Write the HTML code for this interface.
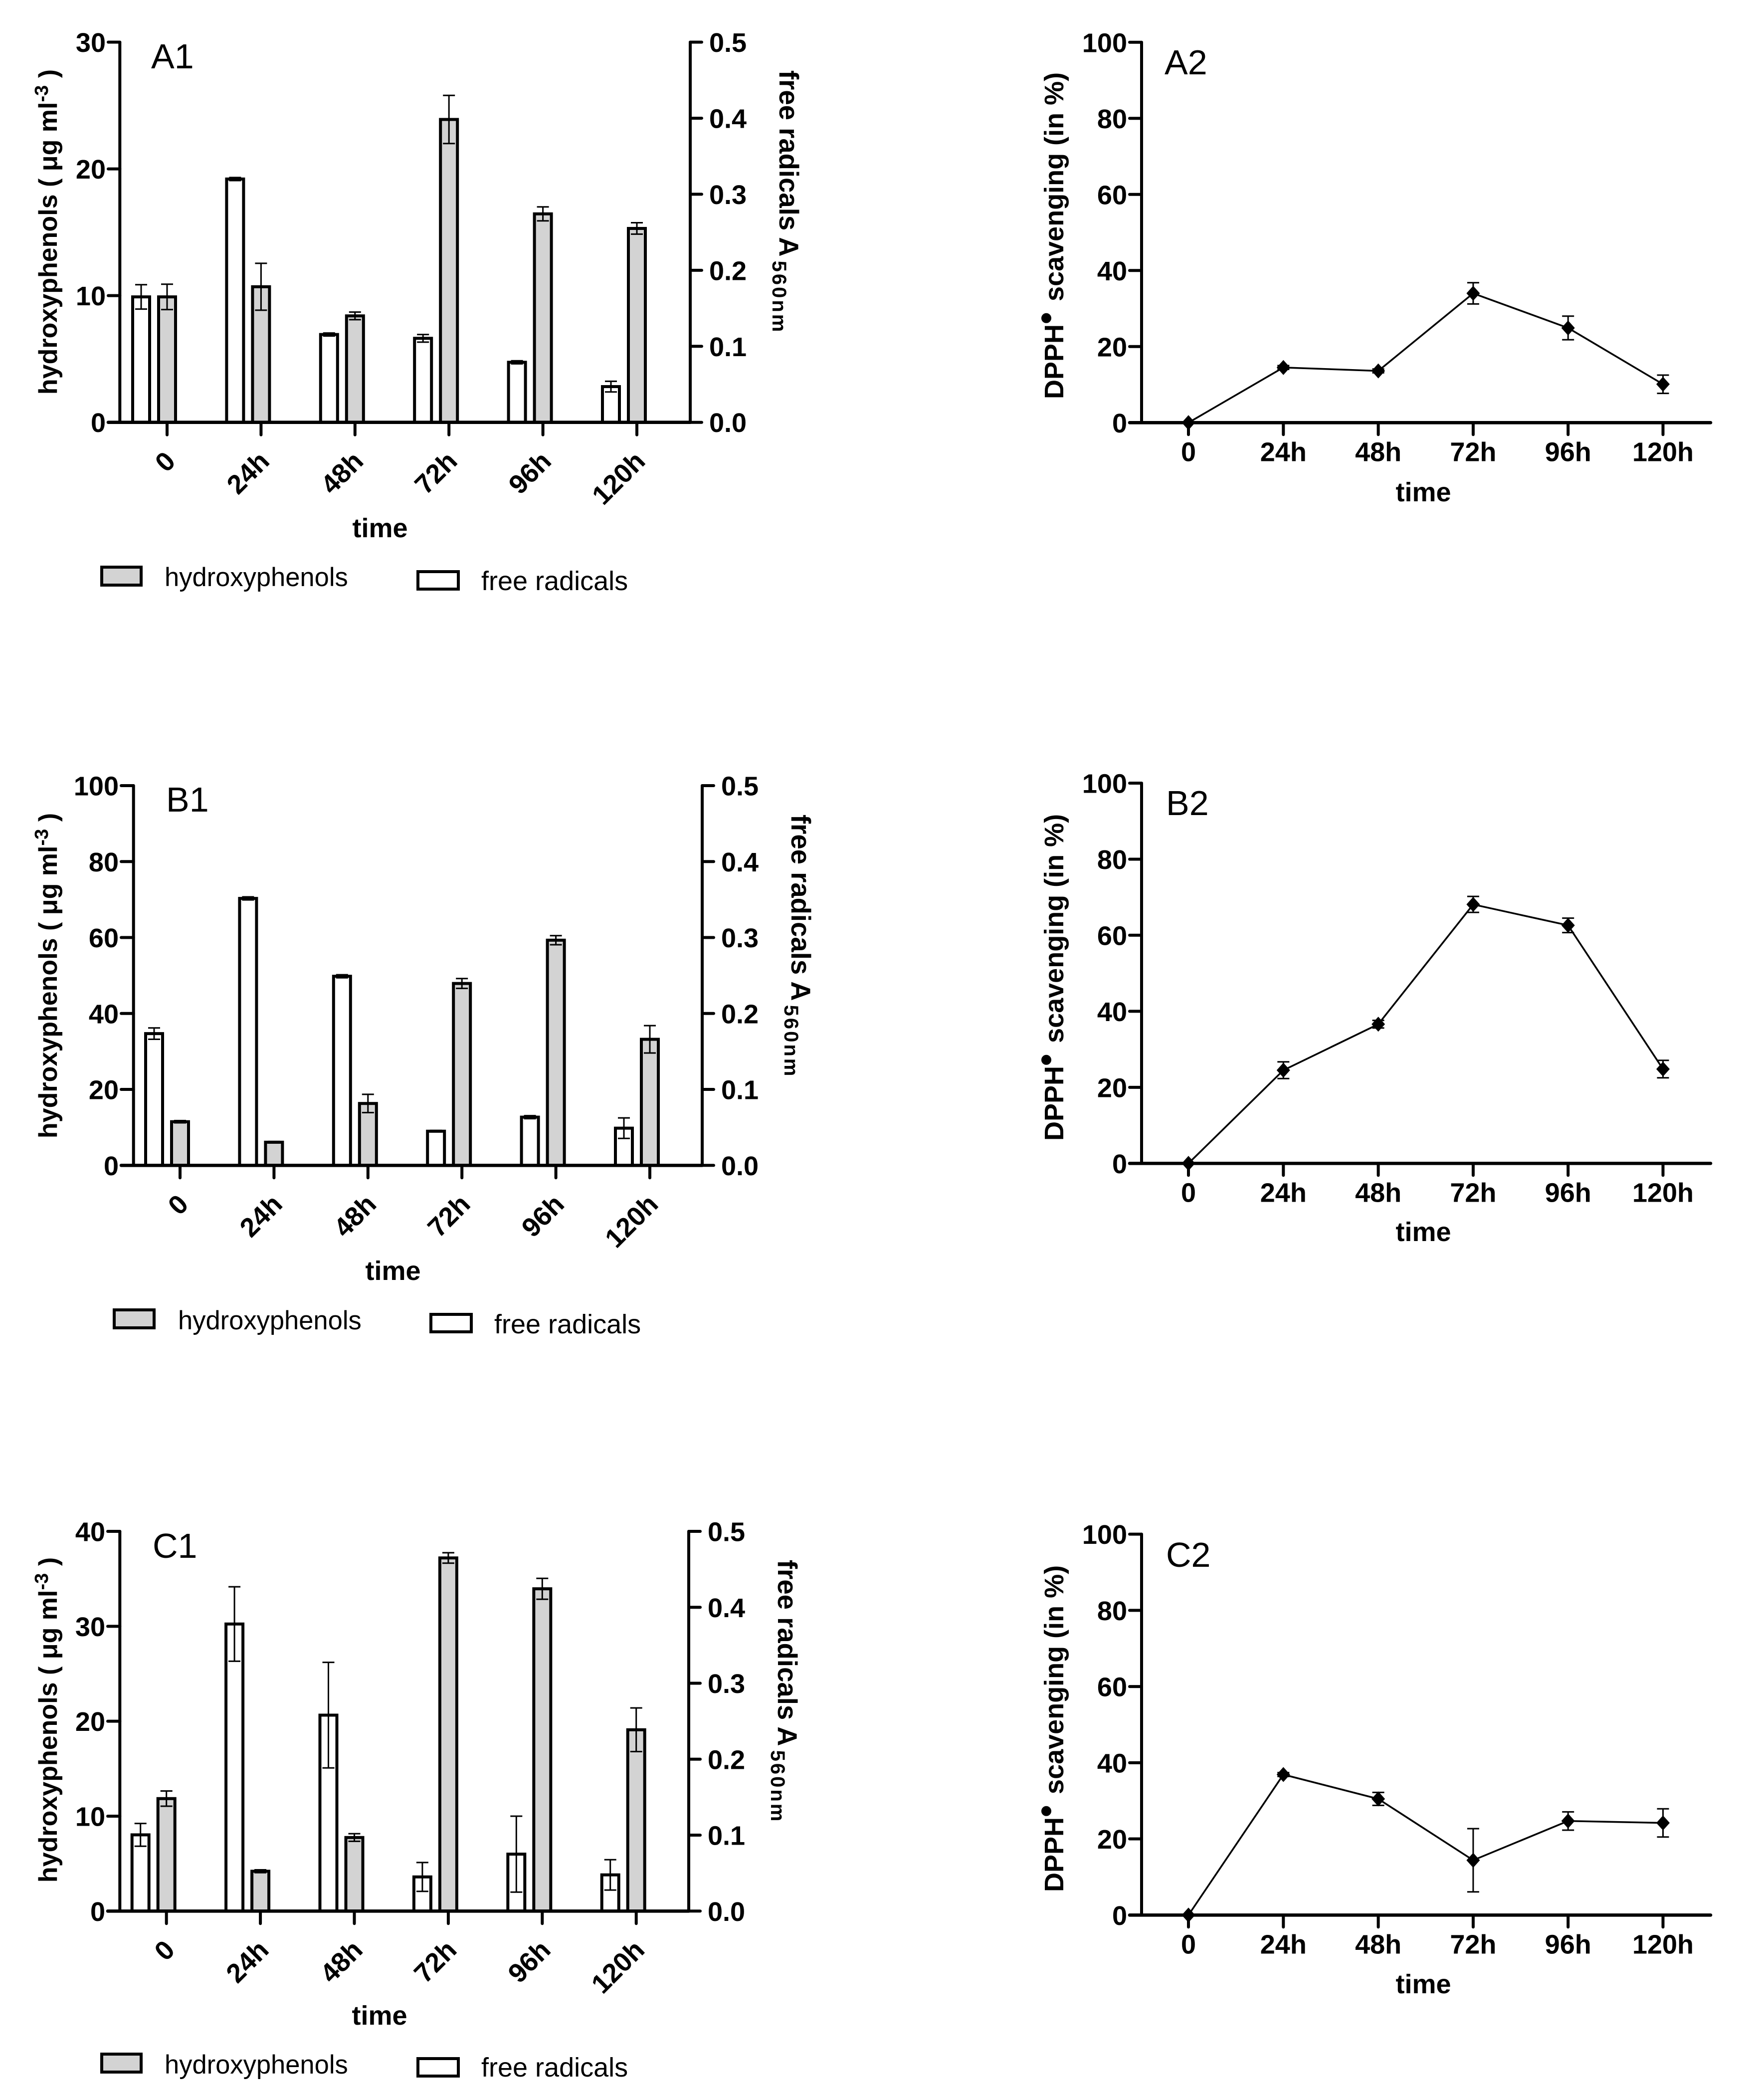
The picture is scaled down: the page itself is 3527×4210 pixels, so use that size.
<!DOCTYPE html>
<html lang="en">
<head>
<meta charset="utf-8">
<title>Hydroxyphenols, free radicals and DPPH scavenging over time</title>
<style>
html,body{margin:0;padding:0;background:#fff;}
svg{display:block;}
text{font-family:"Liberation Sans",Arial,sans-serif;fill:#000;}
.b{font-weight:700;}
.tk{font-weight:700;font-size:54px;}
.ti{font-weight:700;font-size:52px;}
.pl{font-size:70px;}
.lg{font-size:54px;}
.lh{font-size:52.5px;}
</style>
</head>
<body>
<svg id="fig" xmlns="http://www.w3.org/2000/svg" width="3527" height="4210" viewBox="0 0 3527 4210">
<rect width="3527" height="4210" fill="#fff"/>

<g id="a1">
<text class="pl" x="303" y="137">A1</text>
<text class="ti" transform="translate(114,465) rotate(-90)" text-anchor="middle">hydroxyphenols ( μg ml<tspan font-size="38" dy="-18">-3</tspan><tspan dy="18"> )</tspan></text>
<text class="ti" style="font-size:54.5px" transform="translate(1563,141) rotate(90)">free radicals A<tspan style="font-size:40px" dy="14" letter-spacing="4" dx="8">560nm</tspan></text>
<text class="tk" x="762" y="1077" text-anchor="middle">time</text>
<rect x="204" y="1137" width="79" height="36" fill="#d3d3d3" stroke="#000" stroke-width="6"/>
<text class="lh" x="330" y="1175">hydroxyphenols</text>
<rect x="838" y="1146" width="81" height="35" fill="#fff" stroke="#000" stroke-width="6"/>
<text class="lg" x="965" y="1183">free radicals</text>
</g>

<g id="b1">
<text class="pl" x="333" y="1627">B1</text>
<text class="ti" transform="translate(114,1956) rotate(-90)" text-anchor="middle">hydroxyphenols ( μg ml<tspan font-size="38" dy="-18">-3</tspan><tspan dy="18"> )</tspan></text>
<text class="ti" style="font-size:54.5px" transform="translate(1587,1633) rotate(90)">free radicals A<tspan style="font-size:40px" dy="14" letter-spacing="4" dx="8">560nm</tspan></text>
<text class="tk" x="788" y="2566" text-anchor="middle">time</text>
<rect x="229" y="2626" width="80" height="36" fill="#d3d3d3" stroke="#000" stroke-width="6"/>
<text class="lh" x="357" y="2665">hydroxyphenols</text>
<rect x="864" y="2635" width="81" height="35" fill="#fff" stroke="#000" stroke-width="6"/>
<text class="lg" x="991" y="2673">free radicals</text>
</g>

<g id="c1">
<text class="pl" x="306" y="3123">C1</text>
<text class="ti" transform="translate(114,3448) rotate(-90)" text-anchor="middle">hydroxyphenols ( μg ml<tspan font-size="38" dy="-18">-3</tspan><tspan dy="18"> )</tspan></text>
<text class="ti" style="font-size:54.5px" transform="translate(1560,3127) rotate(90)">free radicals A<tspan style="font-size:40px" dy="14" letter-spacing="4" dx="8">560nm</tspan></text>
<text class="tk" x="761" y="4059" text-anchor="middle">time</text>
<rect x="204" y="4118" width="79" height="36" fill="#d3d3d3" stroke="#000" stroke-width="6"/>
<text class="lh" x="330" y="4157">hydroxyphenols</text>
<rect x="838" y="4127" width="81" height="35" fill="#fff" stroke="#000" stroke-width="6"/>
<text class="lg" x="965" y="4163">free radicals</text>
</g>

<g id="a2">
<text class="pl" x="2335" y="149">A2</text>
<text class="ti" style="font-size:54px" transform="translate(2132,800) rotate(-90)">DPPH<tspan style="font-size:70px" dy="-11">•</tspan><tspan dy="11" dx="6.5"> scavenging (in %)</tspan></text>
<text class="tk" x="2854" y="1005" text-anchor="middle">time</text>
</g>

<g id="b2">
<text class="pl" x="2338" y="1634">B2</text>
<text class="ti" style="font-size:54px" transform="translate(2132,2287) rotate(-90)">DPPH<tspan style="font-size:70px" dy="-11">•</tspan><tspan dy="11" dx="6.5"> scavenging (in %)</tspan></text>
<text class="tk" x="2854" y="2488" text-anchor="middle">time</text>
</g>

<g id="c2">
<text class="pl" x="2338" y="3141">C2</text>
<text class="ti" style="font-size:54px" transform="translate(2132,3793) rotate(-90)">DPPH<tspan style="font-size:70px" dy="-11">•</tspan><tspan dy="11" dx="6.5"> scavenging (in %)</tspan></text>
<text class="tk" x="2854" y="3996" text-anchor="middle">time</text>
</g>
</svg>

<script>
// ---- shared categories ----
const categories = ["0", "24h", "48h", "72h", "96h", "120h"];
const rightTicks = [0, 0.1, 0.2, 0.3, 0.4, 0.5];
const dpphTicks = [0, 20, 40, 60, 80, 100];

// ---- A1 ----
const a1LeftTicks = [0, 10, 20, 30];
const a1Hydroxyphenols = [9.9, 10.7, 8.4, 23.9, 16.45, 15.3];
const a1HydroxyphenolsErr = [1.0, 1.85, 0.3, 1.9, 0.55, 0.45];
const a1FreeRadicals = [0.165, 0.32, 0.1155, 0.1105, 0.079, 0.047];
const a1FreeRadicalsErr = [0.016, 0.002, 0.002, 0.005, 0.002, 0.007];

// ---- B1 ----
const b1LeftTicks = [0, 20, 40, 60, 80, 100];
const b1Hydroxyphenols = [11.5, 6.1, 16.3, 47.9, 59.3, 33.2];
const b1HydroxyphenolsErr = [0.3, 0.2, 2.4, 1.3, 1.2, 3.6];
const b1FreeRadicals = [0.1735, 0.3515, 0.249, 0.045, 0.0635, 0.049];
const b1FreeRadicalsErr = [0.0075, 0.002, 0.002, 0.001, 0.002, 0.0135];

// ---- C1 ----
const c1LeftTicks = [0, 10, 20, 30, 40];
const c1Hydroxyphenols = [11.85, 4.2, 7.75, 37.2, 33.95, 19.1];
const c1HydroxyphenolsErr = [0.8, 0.15, 0.4, 0.55, 1.1, 2.3];
const c1FreeRadicals = [0.1004, 0.378, 0.258, 0.045, 0.075, 0.0477];
const c1FreeRadicalsErr = [0.015, 0.049, 0.0695, 0.019, 0.05, 0.02];

// ---- A2 / B2 / C2 ----
const a2Scavenging = [0, 14.5, 13.6, 34, 24.9, 10.1];
const a2ScavengingErr = [0, 0.5, 0.5, 2.8, 3.1, 2.4];
const b2Scavenging = [0, 24.5, 36.6, 68.1, 62.6, 24.8];
const b2ScavengingErr = [0, 2.2, 1, 2.1, 1.9, 2.3];
const c2Scavenging = [0, 36.9, 30.5, 14.4, 24.7, 24.2];
const c2ScavengingErr = [0, 0.5, 1.7, 8.3, 2.4, 3.7];

const NS = "http://www.w3.org/2000/svg";
function mk(parent, tag, attrs, txt) {
  const el = document.createElementNS(NS, tag);
  for (const k in attrs) el.setAttribute(k, attrs[k]);
  if (txt !== undefined) el.textContent = txt;
  parent.appendChild(el);
  return el;
}
const AXIS = {stroke: "#000", "stroke-width": 6, "stroke-linecap": "round", fill: "none"};
const XAXIS = {stroke: "#000", "stroke-width": 6.6, "stroke-linecap": "round", fill: "none"};

function errorBar(g, x, yHi, yLo, name) {
  const err = mk(g, "path", {
    d: "M" + (x - 12) + " " + yHi + "H" + (x + 12) + "M" + x + " " + yHi + "V" + yLo + "M" + (x - 12) + " " + yLo + "H" + (x + 12),
    stroke: "#000", "stroke-width": 3, fill: "none"
  });
  
  
}

function yTickLeft(g, tickStart, axisX, y, label, id) {
  const t = mk(g, "line", Object.assign({x1: tickStart, x2: axisX, y1: y, y2: y}, AXIS));
  
  
  const lab = mk(g, "text", {class: "tk", x: tickStart - 5, y: y + 19.5, "text-anchor": "end"}, label);
  
  
}

function barPanel(id, L, leftTicks, hydro, hydroErr, free, freeErr) {
  const g = document.getElementById(id);
  const leftMax = leftTicks[leftTicks.length - 1];
  const rightMax = rightTicks[rightTicks.length - 1];
  const yL = v => L.zero - (v / leftMax) * (L.zero - L.top);
  const yR = v => L.zero - (v / rightMax) * (L.zero - L.top);
  const xC = i => L.x0 + i * L.step;
  const halfBar = 17, offset = 52;

  categories.forEach((c, i) => {
    const wx = xC(i) - offset;
    const white = mk(g, "rect", {x: wx - halfBar, y: yR(free[i]), width: halfBar * 2, height: L.zero - yR(free[i]), fill: "#fff", stroke: "#000", "stroke-width": 6});
    
    
    const gray = mk(g, "rect", {x: xC(i) - halfBar, y: yL(hydro[i]), width: halfBar * 2, height: L.zero - yL(hydro[i]), fill: "#d3d3d3", stroke: "#000", "stroke-width": 6});
    
    
    errorBar(g, wx, yR(free[i] + freeErr[i]), yR(free[i] - freeErr[i]), 'error-bar-free-radicals-' + c);
    errorBar(g, xC(i), yL(hydro[i] + hydroErr[i]), yL(hydro[i] - hydroErr[i]), 'error-bar-hydroxyphenols-' + c);
  });

  const la = mk(g, "line", Object.assign({x1: L.left, x2: L.left, y1: L.top, y2: L.zero}, AXIS));
  
  
  const ra = mk(g, "line", Object.assign({x1: L.right, x2: L.right, y1: L.top, y2: L.zero}, AXIS));
  
  
  const xa = mk(g, "line", Object.assign({x1: L.tickStart, x2: L.right, y1: L.zero, y2: L.zero}, XAXIS));
  
  

  leftTicks.forEach(v => yTickLeft(g, L.tickStart, L.left, yL(v), String(v), v));

  rightTicks.forEach(v => {
    const y = yR(v);
    const t = mk(g, "line", Object.assign({x1: L.right, x2: L.right + 23, y1: y, y2: y}, AXIS));
    
    
    const lab = mk(g, "text", {class: "tk", x: L.right + 38, y: y + 19.5}, v.toFixed(1));
    
    
  });

  categories.forEach((c, i) => {
    const t = mk(g, "line", Object.assign({x1: xC(i), x2: xC(i), y1: L.zero, y2: L.zero + 25}, AXIS));
    
    
    const lab = mk(g, "text", {class: "tk", transform: "translate(" + (xC(i) + 6) + "," + (L.zero + 67.5) + ") rotate(-45)", "text-anchor": "end", dy: "0.36em"}, c);
    
    
  });
}

function linePanel(id, L, vals, errs) {
  const g = document.getElementById(id);
  const yMax = dpphTicks[dpphTicks.length - 1];
  const y = v => L.zero - (v / yMax) * (L.zero - L.top);
  const xC = i => L.x0 + i * L.step;

  const la = mk(g, "line", Object.assign({x1: L.left, x2: L.left, y1: L.top, y2: L.zero}, AXIS));
  
  
  const xa = mk(g, "line", Object.assign({x1: L.tickStart, x2: L.end, y1: L.zero, y2: L.zero}, XAXIS));
  
  

  dpphTicks.forEach(v => yTickLeft(g, L.tickStart, L.left, y(v), String(v), v));

  categories.forEach((c, i) => {
    const t = mk(g, "line", Object.assign({x1: xC(i), x2: xC(i), y1: L.zero, y2: L.zero + 24}, AXIS));
    
    
    const lab = mk(g, "text", {class: "tk", x: xC(i), y: L.zero + 77, "text-anchor": "middle"}, c);
    
    
  });

  const pts = vals.map((v, i) => xC(i) + "," + y(v)).join(" ");
  const line = mk(g, "polyline", {points: pts, fill: "none", stroke: "#000", "stroke-width": 3.5});
  
  

  vals.forEach((v, i) => {
    if (errs[i] > 0) errorBar(g, xC(i), y(v + errs[i]), y(v - errs[i]), 'error-bar-' + categories[i]);
    const px = xC(i), py = y(v);
    const d = mk(g, "polygon", {points: (px) + "," + (py - 15) + " " + (px + 13.5) + "," + py + " " + px + "," + (py + 15) + " " + (px - 13.5) + "," + py, fill: "#000"});
    
    
  });
}

barPanel("a1", {x0: 335, step: 188.4, left: 240.3, right: 1384, zero: 846.7, top: 84.5, tickStart: 217}, a1LeftTicks, a1Hydroxyphenols, a1HydroxyphenolsErr, a1FreeRadicals, a1FreeRadicalsErr);
barPanel("b1", {x0: 361, step: 188.4, left: 267.7, right: 1408, zero: 2336.3, top: 1575, tickStart: 243}, b1LeftTicks, b1Hydroxyphenols, b1HydroxyphenolsErr, b1FreeRadicals, b1FreeRadicalsErr);
barPanel("c1", {x0: 333.7, step: 188.4, left: 240.3, right: 1381, zero: 3831.3, top: 3070, tickStart: 216}, c1LeftTicks, c1Hydroxyphenols, c1HydroxyphenolsErr, c1FreeRadicals, c1FreeRadicalsErr);
linePanel("a2", {x0: 2383, step: 190.3, left: 2289, end: 3430, zero: 847.3, top: 84.8, tickStart: 2265}, a2Scavenging, a2ScavengingErr);
linePanel("b2", {x0: 2383, step: 190.3, left: 2289, end: 3430, zero: 2332.3, top: 1570, tickStart: 2265}, b2Scavenging, b2ScavengingErr);
linePanel("c2", {x0: 2383, step: 190.3, left: 2289, end: 3430, zero: 3839.3, top: 3075.6, tickStart: 2265}, c2Scavenging, c2ScavengingErr);
</script>
</body>
</html>
